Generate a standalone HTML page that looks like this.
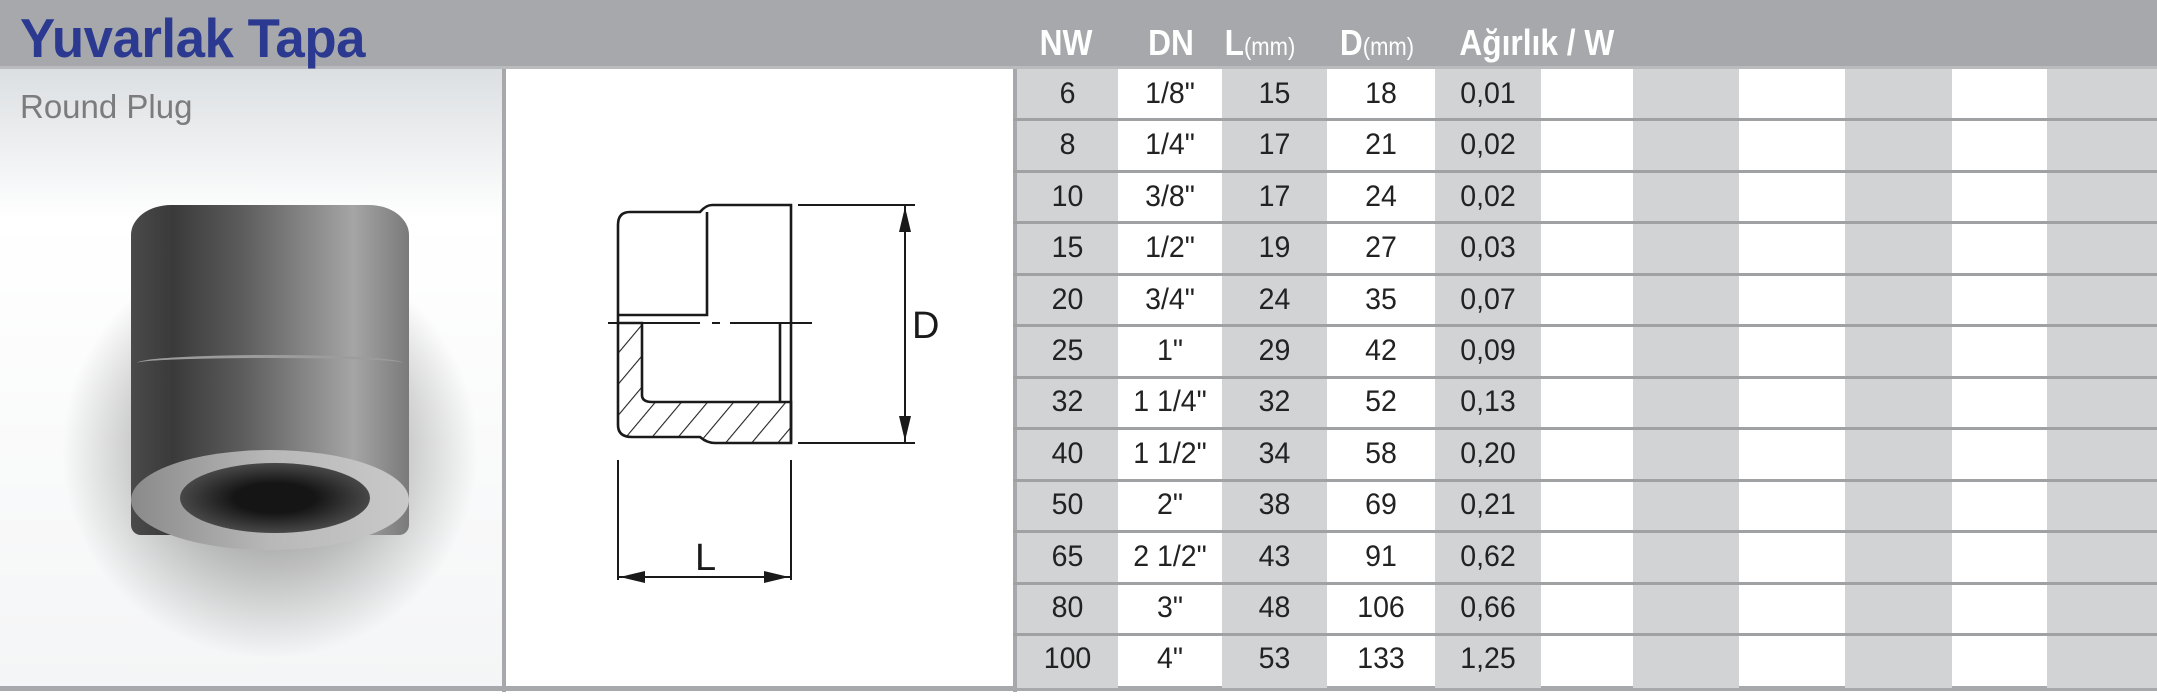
<!DOCTYPE html>
<html><head><meta charset="utf-8"><style>
*{margin:0;padding:0;box-sizing:border-box}
body{width:2157px;height:697px;position:relative;background:#fff;overflow:hidden;font-family:"Liberation Sans",sans-serif}
.abs{position:absolute}
#hdr{left:0;top:0;width:2157px;height:69px;background:#a6a8ab;border-bottom:3px solid #b9bbbd}
#title{left:20px;top:6px;font-size:55px;font-weight:bold;color:#2b3990;letter-spacing:-0.5px;transform:scaleX(0.96);transform-origin:left}
.h{top:22px;font-size:36px;font-weight:bold;color:#fff;transform:scaleX(0.88);transform-origin:center;white-space:nowrap}
.h small{font-size:25px;font-weight:normal}
#left{left:0;top:69px;width:503px;height:619px;background:linear-gradient(#dcdfe2 0,#eef0f1 80px,#fff 150px,#f4f5f6 100%)}
#rp{left:20px;top:88px;font-size:33px;color:#7a7c7e}
.col{top:69px;height:619px}
.cell{position:absolute;font-size:30px;color:#222;text-align:center;transform:scaleX(0.95)}
.sep{position:absolute;left:1013px;width:1144px;height:3px;background:#9fa1a3}
</style></head><body>
<div id="hdr" class="abs"></div>
<div id="title" class="abs">Yuvarlak Tapa</div>
<div class="abs h" style="left:1030px;width:72px;text-align:center">NW</div>
<div class="abs h" style="left:1135px;width:72px;text-align:center">DN</div>
<div class="abs h" style="left:1218px;width:110px">L<small>(mm)</small></div>
<div class="abs h" style="left:1333px;width:115px">D<small>(mm)</small></div>
<div class="abs h" style="left:1448px;width:190px">Ağırlık / W</div>

<div id="left" class="abs"></div>
<div id="rp" class="abs">Round Plug</div>
<!-- photo -->
<div class="abs" style="left:60px;top:300px;width:420px;height:360px;background:radial-gradient(ellipse at 50% 42%,rgba(80,80,80,.75) 0,rgba(120,120,120,.45) 40%,rgba(255,255,255,0) 70%)"></div>
<div class="abs" style="left:131px;top:205px;width:278px;height:330px;border-radius:40px 40px 10px 10px/30px 30px 10px 10px;background:linear-gradient(90deg,#4a4a4a 0,#3a3a3a 15%,#5c5c5c 40%,#8a8a8a 65%,#a5a5a5 80%,#7a7a7a 100%)"></div>
<div class="abs" style="left:137px;top:355px;width:266px;height:16px;border-radius:50%;border-top:3px solid #9c9c9c"></div>
<div class="abs" style="left:131px;top:450px;width:278px;height:100px;border-radius:50%;background:linear-gradient(90deg,#8a8a8a,#b8b8b8 50%,#c9c9c9);"></div>
<div class="abs" style="left:180px;top:463px;width:190px;height:70px;border-radius:50%;background:radial-gradient(ellipse,#151515 30%,#3b3b3b 60%,#6a6a6a 100%)"></div>

<div class="abs" style="left:502px;top:69px;width:4px;height:623px;background:#a6a8ab"></div>
<div class="abs" style="left:0;top:686px;width:2157px;height:5px;background:#a6a8ab"></div>

<!-- drawing -->
<svg class="abs" style="left:0;top:0" width="2157" height="697" viewBox="0 0 2157 697">
<defs><pattern id="hat" width="20" height="20" patternUnits="userSpaceOnUse" patternTransform="rotate(40)"><line x1="0" y1="0" x2="0" y2="20" stroke="#222" stroke-width="2.2"/></pattern></defs>
<path d="M618,323 L618,425 Q618,437 632,437 L700,437 Q707,443 715,443 L791,443 L791,402 L652,402 Q642,402 642,395 L642,323 Z" fill="url(#hat)" stroke="#1a1a1a" stroke-width="2.6"/>
<g fill="none" stroke="#1a1a1a" stroke-width="2.6">
<path d="M618,225 Q618,212 630,212 L700,212 Q706,205 712,205 L791,205 L791,443"/>
<path d="M618,225 L618,323"/>
<path d="M707,212 L707,315 L618,315"/>
<path d="M780,402 L780,323"/>
<path d="M608,323 L700,323 M712,323 L720,323 M730,323 L812,323" stroke-width="2"/>
<path d="M798,205 L915,205 M798,443 L915,443 M905,205 L905,443" stroke-width="2"/>
<path d="M618,460 L618,580 M791,460 L791,580 M618,577 L791,577" stroke-width="2"/>
</g>
<g fill="#1a1a1a">
<path d="M905,207 L899,232 L911,232 Z"/><path d="M905,441 L899,416 L911,416 Z"/>
<path d="M620,577 L645,571 L645,583 Z"/><path d="M789,577 L764,571 L764,583 Z"/>
</g>
<text x="912" y="338" font-family="Liberation Sans" font-size="38" fill="#1a1a1a">D</text>
<text x="695" y="570" font-family="Liberation Sans" font-size="38" fill="#1a1a1a">L</text>
</svg>

<!-- table columns -->
<div class="abs" style="left:1013px;top:69px;width:4px;height:623px;background:#a6a8ab"></div>
<div class="abs col" style="left:1017px;width:101px;background:#d1d3d4"></div>
<div class="abs col" style="left:1222px;width:105px;background:#d1d3d4"></div>
<div class="abs col" style="left:1435px;width:106px;background:#d1d3d4"></div>
<div class="abs col" style="left:1633px;width:106px;background:#d1d3d4"></div>
<div class="abs col" style="left:1845px;width:107px;background:#d1d3d4"></div>
<div class="abs col" style="left:2047px;width:110px;background:#d1d3d4"></div>
<div class="sep" style="top:118px"></div><div class="sep" style="top:170px"></div>
<div class="sep" style="top:221px"></div><div class="sep" style="top:273px"></div>
<div class="sep" style="top:324px"></div><div class="sep" style="top:376px"></div>
<div class="sep" style="top:427px"></div><div class="sep" style="top:479px"></div>
<div class="sep" style="top:530px"></div><div class="sep" style="top:582px"></div>
<div class="sep" style="top:633px"></div>

<div id="cells"></div>
<script>
var d=[["6","1/8\"","15","18","0,01"],["8","1/4\"","17","21","0,02"],["10","3/8\"","17","24","0,02"],["15","1/2\"","19","27","0,03"],["20","3/4\"","24","35","0,07"],["25","1\"","29","42","0,09"],["32","1 1/4\"","32","52","0,13"],["40","1 1/2\"","34","58","0,20"],["50","2\"","38","69","0,21"],["65","2 1/2\"","43","91","0,62"],["80","3\"","48","106","0,66"],["100","4\"","53","133","1,25"]];
var xs=[[1017,101],[1118,104],[1222,105],[1327,108],[1435,106]];
var h="";
d.forEach(function(r,i){r.forEach(function(t,j){h+='<div class="cell" style="left:'+xs[j][0]+'px;width:'+xs[j][1]+'px;top:'+(69+i*51.4+8)+'px">'+t+'</div>';});});
document.getElementById("cells").innerHTML=h;
</script>
</body></html>
